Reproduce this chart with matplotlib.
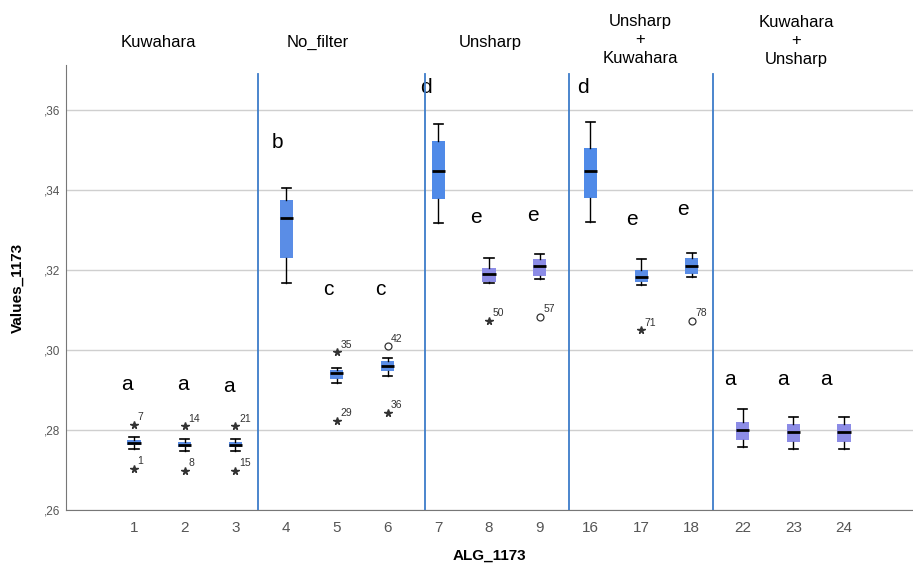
import matplotlib
matplotlib.use("Agg")
import matplotlib.pyplot as plt

plt.rcParams['font.family'] = ['Liberation Sans', 'DejaVu Sans']

# Algorithm codes along the x axis
categories = ["1", "2", "3", "4", "5", "6", "7", "8", "9",
              "16", "17", "18", "22", "23", "24"]

# Box-plot summary statistics per algorithm
whislo = [0.2752, 0.2748, 0.2748, 0.3168, 0.2918, 0.2935, 0.3318, 0.3168, 0.3178,
          0.3320, 0.3163, 0.3183, 0.2758, 0.2753, 0.2753]
q1 = [0.2762, 0.2757, 0.2757, 0.3230, 0.2928, 0.2948, 0.3378, 0.3170, 0.3185,
      0.3380, 0.3170, 0.3190, 0.2775, 0.2770, 0.2770]
medians = [0.2768, 0.2763, 0.2763, 0.3330, 0.2943, 0.2960, 0.3448, 0.3190, 0.3210,
           0.3448, 0.3183, 0.3210, 0.2800, 0.2795, 0.2795]
q3 = [0.2775, 0.2770, 0.2770, 0.3375, 0.2950, 0.2972, 0.3523, 0.3205, 0.3228,
      0.3505, 0.3200, 0.3230, 0.2820, 0.2815, 0.2815]
whishi = [0.2782, 0.2778, 0.2778, 0.3405, 0.2955, 0.2980, 0.3565, 0.3230, 0.3240,
          0.3570, 0.3228, 0.3243, 0.2853, 0.2833, 0.2833]
box_colors = ["#5a8de6", "#5a8de6", "#5a8de6", "#5a8de6", "#5a8de6", "#5a8de6",
              "#4f8ae8", "#8c8ce6", "#8c8ce6", "#4f8ae8", "#5a8de6", "#5a8de6",
              "#8c8ce6", "#8c8ce6", "#8c8ce6"]

# Outliers: (category index, value, case number, marker kind)
out_pos = [0, 0, 1, 1, 2, 2, 4, 4, 5, 5, 7, 8, 10, 11]
out_val = [0.2813, 0.2703, 0.2810, 0.2698, 0.2810, 0.2698, 0.2995, 0.2823,
           0.3010, 0.2843, 0.3073, 0.3083, 0.3050, 0.3073]
out_lab = ["7", "1", "14", "8", "21", "15", "35", "29", "42", "36",
           "50", "57", "71", "78"]
out_kind = ["*", "*", "*", "*", "*", "*", "*", "*", "o", "*", "*", "o", "*", "o"]

# Homogeneous-subset letters
letter_pos = [0, 1, 2, 3, 4, 5, 6, 7, 8, 9, 10, 11, 12, 13, 14]
letters = ["a", "a", "a", "b", "c", "c", "d", "e", "e", "d", "e", "e", "a", "a", "a"]
letter_x = [-0.14, -0.04, -0.12, -0.18, -0.16, -0.14, -0.25, -0.25, -0.13,
            -0.14, -0.18, -0.17, -0.25, -0.2, -0.35]
letter_y = [0.2913, 0.2913, 0.2908, 0.3518, 0.3150, 0.3150, 0.3655, 0.3330, 0.3335,
            0.3655, 0.3325, 0.3350, 0.2925, 0.2925, 0.2925]

# Filter groups and separators
group_names = ["Kuwahara", "No_filter", "Unsharp", "Unsharp\n+\nKuwahara",
               "Kuwahara\n+\nUnsharp"]
group_x = [0.173, 0.348, 0.537, 0.701, 0.872]
group_y = [0.927, 0.927, 0.927, 0.931, 0.929]
separators = [2.45, 5.73, 8.58, 11.42]

fig = plt.figure(figsize=(9.13, 5.77), dpi=100)
ax = fig.add_axes([0.0723, 0.1161, 0.9277, 0.7710])

stats = []
for i in range(len(categories)):
    stats.append(dict(med=medians[i], q1=q1[i], q3=q3[i],
                      whislo=whislo[i], whishi=whishi[i], fliers=[]))

pos = list(range(len(categories)))
bp = ax.bxp(stats, positions=pos, widths=0.26, patch_artist=True,
            showfliers=False,
            medianprops=dict(color="black", linewidth=2),
            whiskerprops=dict(color="black", linewidth=1),
            capprops=dict(color="black", linewidth=1.2),
            boxprops=dict(linewidth=0))
for patch, c in zip(bp["boxes"], box_colors):
    patch.set_facecolor(c)
    patch.set_edgecolor(c)
for cap in bp["caps"]:
    x0, x1 = cap.get_xdata()
    mid = (x0 + x1) / 2
    cap.set_xdata([mid - 0.09, mid + 0.09])

for p, v, lab, k in zip(out_pos, out_val, out_lab, out_kind):
    if k == "o":
        ax.plot(p, v, marker="o", ms=5, mfc="white", mec="#333333", mew=0.9,
                ls="none", zorder=4)
    else:
        ax.plot(p, v, marker="*", ms=5.5, color="#333333", ls="none", zorder=4)
    ax.text(p + 0.07, v + 0.0006, lab, fontsize=7.5, color="#333333",
            ha="left", va="bottom")

for p, l, dx, y in zip(letter_pos, letters, letter_x, letter_y):
    ax.text(p + dx, y, l, fontsize=15, color="black", ha="center", va="center")

for s in separators:
    ax.axvline(s, ymin=0, ymax=0.98, color="#3d7cc9", linewidth=1.3, zorder=3)

for name, gx, gy in zip(group_names, group_x, group_y):
    fig.text(gx, gy, name, fontsize=12, ha="center", va="center",
             linespacing=1.3)

ax.set_xlim(-1.34, 15.36)
ax.set_ylim(0.26, 0.3712)
ax.set_yticks([0.26, 0.28, 0.30, 0.32, 0.34, 0.36])
ax.set_yticklabels([",26", ",28", ",30", ",32", ",34", ",36"], fontsize=8.5,
                   color="#555555")
ax.set_xticks(pos)
ax.set_xticklabels(categories, fontsize=11, color="#555555")
ax.tick_params(axis="both", length=0, pad=8)
ax.tick_params(axis="y", pad=4)
ax.grid(axis="y", color="#cfcfcf", linewidth=1)
ax.set_axisbelow(True)
for sp in ["top", "right"]:
    ax.spines[sp].set_visible(False)
ax.spines["left"].set_color("#777777")
ax.spines["bottom"].set_color("#777777")

ax.set_xlabel("ALG_1173", fontsize=11, fontweight="bold", labelpad=10)
ax.set_ylabel("Values_1173", fontsize=11, fontweight="bold", labelpad=14)

fig.savefig("out.png", dpi=100)
